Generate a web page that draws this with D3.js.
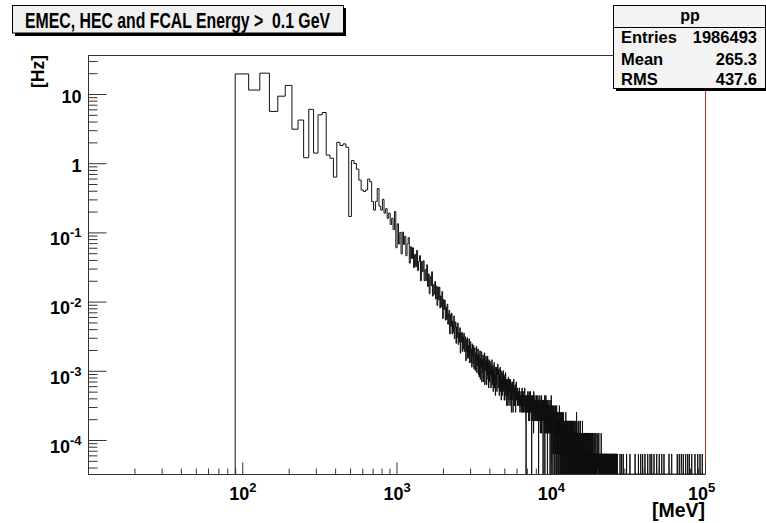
<!DOCTYPE html>
<html>
<head>
<meta charset="utf-8">
<script src="https://cdn.jsdelivr.net/npm/d3@7"></script>
<style>
  html, body { margin: 0; padding: 0; background: #fff; }
  svg { display: block; font-family: "Liberation Sans", Arial, Helvetica, sans-serif; font-weight: bold; }
</style>
</head>
<body>
<svg id="chart" width="766" height="523"></svg>
<script>
// ---- histogram binning (MeV) ----
const binWidth = 20;
const firstEdge = 90;

// rates in Hz, one per 20 MeV bin starting at 90 MeV
const lowRates = [
  19.5, 11.4, 20.0, 5.6, 9.3, 13.3, 3.1, 4.2, 1.2, 6.0,
  1.4, 5.0, 5.4, 1.31, 1.18, 0.63, 2.0, 1.8, 1.9, 1.7,
  0.17, 1.09, 0.99, 0.82, 0.57, 0.41, 0.39, 0.41, 0.59, 0.54,
  0.28, 0.21, 0.28, 0.43, 0.24, 0.21, 0.30, 0.19, 0.22, 0.16,
  0.19, 0.13, 0.16, 0.11, 0.20, 0.06,
  0.133, 0.068, 0.100, 0.049, 0.101, 0.067, 0.088, 0.046, 0.068, 0.084,
  0.036, 0.062, 0.042, 0.060, 0.031, 0.048, 0.032, 0.055, 0.028, 0.038,
  0.046, 0.020, 0.038, 0.027, 0.039, 0.020, 0.029, 0.020, 0.034, 0.0165,
  0.025, 0.013, 0.023, 0.017, 0.027, 0.012, 0.0176, 0.0128, 0.0195, 0.0109,
  0.0168, 0.0088, 0.0163, 0.0106, 0.0162, 0.0081, 0.0121, 0.0084, 0.014, 0.0057,
  0.0108, 0.0077, 0.0105, 0.0054, 0.0083, 0.0055, 0.0092, 0.0047, 0.0066, 0.0075,
  0.0034, 0.0065, 0.0044, 0.0068, 0.0034, 0.0052, 0.0036, 0.0062, 0.0029, 0.0042,
  0.0051, 0.0025, 0.0043, 0.0030, 0.0049, 0.0024, 0.0036, 0.0026, 0.0042, 0.0018,
  0.0035, 0.0026, 0.0036, 0.0019, 0.0031, 0.0021, 0.0035, 0.0019, 0.0026, 0.0031,
  0.0014, 0.0028, 0.0019, 0.0030, 0.0015, 0.0023, 0.0016, 0.0029, 0.0013, 0.0020
];

// rate carried by a single entry
const hzPerCount = 6.28e-5;

// entries per bin from 3010 MeV
const midStart = 3010;
const midCounts = [
  42, 21, 33, 18, 39, 26, 20, 37, 17, 31,
  34, 16, 29, 22, 36, 15, 27, 19, 33, 14,
  28, 13, 25, 31, 12, 24, 18, 30, 11, 23,
  15, 27, 11, 24, 19, 29, 10, 22, 16, 26,
  24, 10, 20, 14, 26, 12, 21, 9, 23, 16,
  11, 22, 14, 20, 9, 18, 13, 23, 10, 17,
  19, 8, 16, 12, 21, 9, 15, 18, 7, 14,
  10, 18, 12, 8, 17, 14, 20, 9, 13, 16,
  17, 7, 14, 11, 18, 8, 13, 16, 6, 12,
  9, 15, 7, 13, 10, 16, 8, 12, 14, 6,
  13, 6, 11, 9, 15, 7, 10, 12, 5, 11,
  7, 12, 9, 5, 11, 13, 6, 10, 8, 12,
  10, 5, 9, 12, 6, 11, 8, 4, 10, 9,
  6, 11, 7, 9, 4, 10, 8, 12, 5, 9,
  9, 5, 8, 10, 6, 4, 9, 7, 11, 6
];

// entries per bin from 6010 MeV, one digit per bin, 2 GeV per string
const tailStart = 6010;
const tailCounts = [
  "8675976858 7596847567 6847596485 7564857694 5746305746 6475846573 5847365486 4657304657 5364752846 4653745364",
  "5364735463 4573640564 3564735243 4635274536 3546203645 4352637043 3625734526 2453604352 3524362534 4253063243",
  "3247053423 2534203152 3214352034 2403253142 1324052312 3142304213 2031423152 3201324023 1423102341 2310423102",
  "2130421302 3120213012 1203142031 2301302120 1302130213 2031201302 0213021301 2103120213 1020312012 2310201301",
  "1202130120 2101302101 0212013021 1020410312 2101201021 0120310201 1201021020 2010130301 1021020121 0201102010",
  "1030120102 0110201021 1020102010 2010110201 0102010120 1010201010 0201020102 1010102010 0120101020 1010201001",
  "1020101001 0101201010 1001020100 2010010102 0101001010 1010200101 0100101020 1010010100 0102001010 1001010010",
  "0101001020 1001010010 0100201001 1010010010 0010100101 1001001010 0200100100 1001010010 0100100101 1010010001",
  "0100101001 0010010100 1001001001 0100100010 1000101001 0010010010 1001000100 0100100101 0010010010 1000100100",
  "0100100010 0010001001 1000100100 0010010001 0100001000 1001000100 0010010001 0100100010 0001001000 1000100100",
  "0010001000 0100100010 0010000100 1000100010 0010000100"
];

// lower edges (MeV) of the isolated single-entry bins above 27 GeV
const sparseHits = [
  28110, 28810, 29510, 31010, 32610, 35210, 37010, 38310, 39410, 40810,
  42510, 44010, 45110, 46710, 48610, 50510, 52410, 54210, 58410, 60810,
  66110, 68110, 70210, 72310, 74910, 77210, 79110, 82010, 86110, 89710,
  92810, 96010
];

// ---- axes ----
const xDomain = [10, 1e5];
const yDomain = [3.226e-5, 36.6];
const xMajor = [100, 1000, 10000, 100000];
const xMajorLabels = [["10", "2"], ["10", "3"], ["10", "4"], ["10", "5"]];
const yMajor = [1e-4, 1e-3, 1e-2, 1e-1, 1, 10];
const yMajorLabels = [["10", "-4"], ["10", "-3"], ["10", "-2"], ["10", "-1"], ["1", ""], ["10", ""]];
const minorMultipliers = [2, 3, 4, 5, 6, 7, 8, 9];
const decadesX = [10, 100, 1000, 10000];
const decadesY = [1e-5, 1e-4, 1e-3, 1e-2, 1e-1, 1, 10];

const titleText = "EMEC, HEC and FCAL Energy >  0.1 GeV";
const xTitle = "[MeV]";
const yTitle = "[Hz]";
const statsName = "pp";
const statsRows = [["Entries", "1986493"], ["Mean", "265.3"], ["RMS", "437.6"]];

// ---- drawing ----
const svg = d3.select("#chart");
const frame = { left: 88, right: 705, top: 55, bottom: 474 };

const x = d3.scaleLog().domain(xDomain).range([frame.left, frame.right]);
const y = d3.scaleLog().domain(yDomain).range([frame.bottom, frame.top]).clamp(true);

svg.append("rect").attr("width", 766).attr("height", 523).attr("fill", "#fff");

// assemble bins
const bins = [];
lowRates.forEach((v, i) => bins.push({ lo: firstEdge + binWidth * i, v }));
midCounts.forEach((c, j) => bins.push({ lo: midStart + binWidth * j, v: c * hzPerCount }));
const tailDigits = tailCounts.join("").replace(/\s+/g, "");
for (let k = 0; k < tailDigits.length; k++) {
  bins.push({ lo: tailStart + binWidth * k, v: (+tailDigits[k]) * hzPerCount });
}
const hitSet = new Set(sparseHits);
for (let lo = tailStart + binWidth * tailDigits.length; lo < xDomain[1]; lo += binWidth) {
  bins.push({ lo, v: hitSet.has(lo) ? hzPerCount : 0 });
}

const yOf = v => (v > 0 ? y(v) : frame.bottom);
const pts = [[x(firstEdge), frame.bottom]];
bins.forEach(b => {
  const yy = yOf(b.v);
  pts.push([x(b.lo), yy]);
  pts.push([x(Math.min(b.lo + binWidth, xDomain[1])), yy]);
});
pts.push([x(xDomain[1]), frame.bottom]);

svg.append("clipPath").attr("id", "plotClip")
  .append("rect")
  .attr("x", frame.left).attr("y", frame.top)
  .attr("width", frame.right - frame.left).attr("height", frame.bottom - frame.top);

svg.append("path")
  .attr("clip-path", "url(#plotClip)")
  .attr("d", d3.line()(pts))
  .attr("fill", "none")
  .attr("stroke", "#111")
  .attr("stroke-width", 1);

// frame
const frameColor = "#333";
svg.append("line").attr("x1", frame.left).attr("x2", frame.right)
  .attr("y1", frame.top + 0.5).attr("y2", frame.top + 0.5).attr("stroke", frameColor);
svg.append("line").attr("x1", frame.left + 0.5).attr("x2", frame.left + 0.5)
  .attr("y1", frame.top).attr("y2", frame.bottom + 0.5).attr("stroke", frameColor);
svg.append("line").attr("x1", frame.left).attr("x2", frame.right)
  .attr("y1", frame.bottom + 0.5).attr("y2", frame.bottom + 0.5).attr("stroke", frameColor);
svg.append("line").attr("x1", frame.right + 0.5).attr("x2", frame.right + 0.5)
  .attr("y1", frame.top).attr("y2", frame.bottom + 0.5).attr("stroke", "#a8322a");

// minor ticks
const minorX = decadesX.flatMap(d => minorMultipliers.map(m => m * d)).filter(v => v > xDomain[0] && v < xDomain[1]);
const minorY = decadesY.flatMap(d => minorMultipliers.map(m => m * d)).filter(v => v > yDomain[0] && v < yDomain[1]);

function styleAxis(g) {
  g.attr("font-family", null).attr("font-size", null);
  g.select(".domain").remove();
  g.selectAll(".tick line").attr("stroke", frameColor);
}

svg.append("g").attr("transform", `translate(${frame.left + 0.5},0)`)
  .call(d3.axisLeft(y).tickValues(minorY).tickSizeInner(-9).tickSizeOuter(0).tickFormat(""))
  .call(styleAxis);
svg.append("g").attr("transform", `translate(0,${frame.bottom + 0.5})`)
  .call(d3.axisBottom(x).tickValues(minorX).tickSizeInner(-6).tickSizeOuter(0).tickFormat(""))
  .call(styleAxis);

// major ticks with labels
const yAxisG = svg.append("g").attr("transform", `translate(${frame.left + 0.5},0)`)
  .call(d3.axisLeft(y).tickValues(yMajor).tickSizeInner(-18).tickSizeOuter(0).tickPadding(7))
  .call(styleAxis);
const xAxisG = svg.append("g").attr("transform", `translate(0,${frame.bottom + 0.5})`)
  .call(d3.axisBottom(x).tickValues(xMajor).tickSizeInner(-12).tickSizeOuter(0).tickPadding(13))
  .call(styleAxis);

function powerLabels(g, labels, dyPlain, dyExp) {
  g.selectAll(".tick text").each(function (d, i) {
    const [base, exp] = labels[i];
    const t = d3.select(this).text(null)
      .attr("font-size", 18).attr("fill", "#000")
      .attr("dy", exp ? dyExp : dyPlain);
    t.append("tspan").text(base);
    if (exp) t.append("tspan").attr("font-size", 13).attr("dy", "-0.6em").text(exp);
  });
}
powerLabels(yAxisG, yMajorLabels, "0.45em", "0.68em");
powerLabels(xAxisG, xMajorLabels, "0.71em", "0.71em");
// the last label sits a little inside the frame edge
xAxisG.selectAll(".tick text").filter(d => d === xDomain[1]).attr("dx", -4);

// axis titles
svg.append("text")
  .attr("x", frame.right).attr("y", 517)
  .attr("text-anchor", "end").attr("font-size", 19.5)
  .text(xTitle);
svg.append("text")
  .attr("transform", `translate(43.5,${frame.top}) rotate(-90)`)
  .attr("text-anchor", "end").attr("font-size", 17.5)
  .text(yTitle);

// title box
svg.append("rect").attr("x", 15).attr("y", 8).attr("width", 331).attr("height", 28).attr("fill", "#000");
svg.append("rect").attr("x", 12.5).attr("y", 5.5).attr("width", 331).attr("height", 27.5)
  .attr("fill", "#f0f0f0").attr("stroke", "#000").attr("stroke-width", 1);
svg.append("text")
  .attr("x", 25).attr("y", 27.5)
  .attr("font-size", 22)
  .attr("textLength", 305).attr("lengthAdjust", "spacingAndGlyphs")
  .style("white-space", "pre")
  .text(titleText);

// statistics box
const sb = { x: 613.5, y: 5.5, w: 152, h: 83 };
svg.append("rect").attr("x", sb.x + 2.5).attr("y", sb.y + 2.5).attr("width", sb.w).attr("height", sb.h).attr("fill", "#000");
svg.append("rect").attr("x", sb.x).attr("y", sb.y).attr("width", sb.w).attr("height", sb.h)
  .attr("fill", "#f3f3f3").attr("stroke", "#000");
svg.append("line").attr("x1", sb.x).attr("x2", sb.x + sb.w)
  .attr("y1", 27.5).attr("y2", 27.5).attr("stroke", "#000");
svg.append("text").attr("x", 690).attr("y", 21).attr("text-anchor", "middle")
  .attr("font-size", 16).text(statsName);
const rowBase = [43, 64.5, 85];
statsRows.forEach((r, i) => {
  svg.append("text").attr("x", 621).attr("y", rowBase[i]).attr("font-size", 16.5).text(r[0]);
  svg.append("text").attr("x", 757).attr("y", rowBase[i]).attr("text-anchor", "end").attr("font-size", 16.5).text(r[1]);
});
</script>
</body>
</html>
